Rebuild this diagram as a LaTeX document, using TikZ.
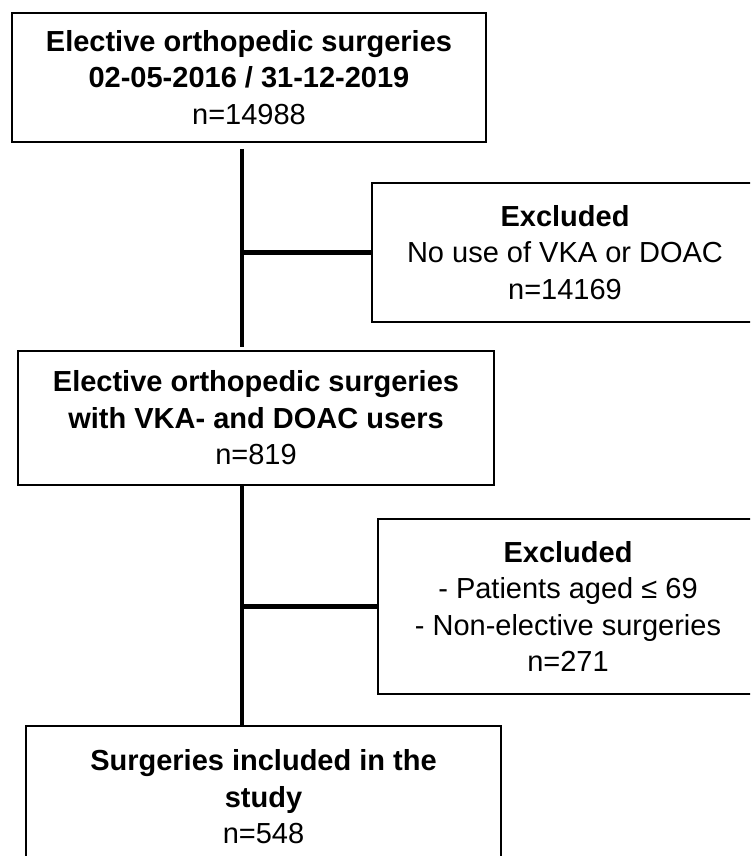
\documentclass[tikz,border=0pt]{standalone}
\usepackage{fontspec}
\setmainfont{Liberation Sans}
\usepackage{tikz}
\tikzset{box/.style={draw, line width=1.8pt, align=center, inner sep=0pt,
   font=\fontsize{29}{36.5}\selectfont},
 conn/.style={draw, line width=4.5pt},
 }

\begin{document}
\begin{tikzpicture}[x=1pt,y=-1pt]
        \clip (0,0) rectangle (750,856);
        \fill[white] (0,0) rectangle (750,856);
        \coordinate (trunk) at (242,0);
        \node[box, minimum width=474pt, minimum height=129pt] (all) at (249,77.5)
            {\textbf{Elective orthopedic surgeries}\\\textbf{02-05-2016 / 31-12-2019}\\n=14988};
        \node[box, minimum width=386pt, minimum height=139pt] (excl1) at (565,252.5)
            {\textbf{Excluded}\\No use of VKA or DOAC\\n=14169};
        \node[box, minimum width=476pt, minimum height=134pt] (users) at (256,418)
            {\textbf{Elective orthopedic surgeries}\\\textbf{with VKA- and DOAC users}\\n=819};
        \node[box, minimum width=380pt, minimum height=175pt] (excl2) at (568,606.5)
            {\textbf{Excluded}\\- Patients aged ≤ 69\\- Non-elective surgeries\\n=271};
        \node[box, minimum width=475pt, minimum height=142pt] (incl) at (263.5,797)
            {\textbf{Surgeries included in the}\\\textbf{study}\\n=548};
        \draw[conn, shorten <=6pt, shorten >=3pt] (all.south -| trunk) -- (users.north -| trunk);
        \draw[conn] (trunk |- excl1.west) -- (excl1.west);
        \draw[conn] (users.south -| trunk) -- (incl.north -| trunk);
        \draw[conn] (trunk |- excl2.west) -- (excl2.west);
    \end{tikzpicture}
\end{document}
